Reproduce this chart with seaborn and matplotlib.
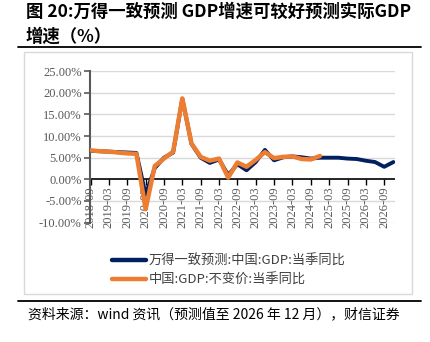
import matplotlib
matplotlib.use("Agg")
import matplotlib.pyplot as plt
import seaborn as sns
import pandas as pd
import numpy as np
from matplotlib.patches import Rectangle
from matplotlib.lines import Line2D

# ---------------- data ----------------
quarters = ["2018-09", "2018-12",
            "2019-03", "2019-06", "2019-09", "2019-12",
            "2020-03", "2020-06", "2020-09", "2020-12",
            "2021-03", "2021-06", "2021-09", "2021-12",
            "2022-03", "2022-06", "2022-09", "2022-12",
            "2023-03", "2023-06", "2023-09", "2023-12",
            "2024-03", "2024-06", "2024-09", "2024-12",
            "2025-03", "2025-06", "2025-09", "2025-12",
            "2026-03", "2026-06", "2026-09", "2026-12"]
forecast = [6.6, 6.5, 6.4, 6.3, 6.2, 6.1,
            -3.5, 2.6, 5.0, 6.2,
            18.6, 8.2, 5.0, 3.8,
            4.6, 1.0, 3.5, 2.1,
            4.0, 6.8, 4.4, 5.1,
            5.3, 5.1, 4.8, 5.0,
            5.0, 5.0, 4.8, 4.7,
            4.3, 4.0, 2.9, 4.0]
actual = [6.7, 6.5, 6.4, 6.2, 6.0, 5.9,
          -6.9, 3.1, 4.8, 6.4,
          18.7, 8.3, 5.2, 4.3,
          4.8, 0.4, 3.9, 2.9,
          4.5, 6.3, 4.9, 5.2,
          5.3, 4.7, 4.6, 5.4]
series_names = ["万得一致预测:中国:GDP:当季同比", "中国:GDP:不变价:当季同比"]
y_ticks = [-10, -5, 0, 5, 10, 15, 20, 25]

title_text = "图 20:万得一致预测 GDP增速可较好预测实际GDP\n增速（%）"
source_text = "资料来源：wind 资讯（预测值至 2026 年 12 月），财信证券"

# ---------------- build frame ----------------
idx = np.arange(len(quarters))
df = pd.concat([
    pd.DataFrame({"x": idx, "v": forecast, "s": series_names[0]}),
    pd.DataFrame({"x": idx[:len(actual)], "v": actual, "s": series_names[1]}),
])

sns.set_theme(style="white")
plt.rcParams["font.family"] = ["Noto Sans CJK SC", "DejaVu Sans"]

fig = plt.figure(figsize=(4.31, 3.42), dpi=100)
ax = fig.add_axes([0.209, 0.349, 0.708, 0.443])

colors = {series_names[0]: "#002060", series_names[1]: "#ED7D31"}
sns.lineplot(data=df, x="x", y="v", hue="s", palette=colors, ax=ax,
             legend=False, linewidth=3.0, zorder=3)
ax.lines[0].set_linewidth(2.8)
ax.lines[1].set_linewidth(3.2)

ax.set_xlim(-0.05, 33.2)
ax.set_ylim(-10, 25)
ax.set_yticks(y_ticks)
ax.set_yticklabels([f"{t:.2f}%" for t in y_ticks], family="Liberation Serif",
                   fontsize=9, color="#595959")
for t in y_ticks:
    if t != 0:
        ax.axhline(t, color="#d9d9d9", lw=1.0, zorder=0)
ax.axhline(0, color="black", lw=1.2, zorder=2)

for s in ["top", "right", "bottom"]:
    ax.spines[s].set_visible(False)
ax.spines["left"].set_color("#595959")
ax.spines["left"].set_linewidth(1.5)
ax.tick_params(axis="y", length=4, width=1.2, color="#595959", left=True, pad=2)

tick_pos = idx[::2]
ax.set_xticks([])
ax.set_xlabel("")
ax.set_ylabel("")

sec = ax.secondary_xaxis(10 / 35)
sec.set_xticks(tick_pos)
sec.set_xticklabels([quarters[i] for i in tick_pos], rotation=90,
                    family="Liberation Serif", fontsize=9, color="#595959")
sec.tick_params(axis="x", direction="out", length=4, width=1.0,
                color="black", pad=1)
sec.spines["bottom"].set_visible(False)

# legend
handles = [Line2D([], [], color=colors[n], lw=3.2) for n in series_names]
fig.legend(handles, series_names, loc="upper left",
           bbox_to_anchor=(100 / 431, 1 - 243 / 342), frameon=False,
           handlelength=2.6, handletextpad=0.2, labelspacing=0.45,
           prop={"family": ["Noto Sans CJK SC", "DejaVu Sans"], "size": 9.5},
           labelcolor="#404040")

# frame, rules, title, source
fig.patches.append(Rectangle((24 / 431, 1 - 294 / 342), 388 / 431, 242 / 342,
                             transform=fig.transFigure, fill=False,
                             edgecolor="#d9d9d9", lw=1.0))
fig.add_artist(Line2D([18 / 431, 421 / 431], [1 - 47 / 342] * 2,
                      transform=fig.transFigure, color="black", lw=1.3))
fig.add_artist(Line2D([18 / 431, 421 / 431], [1 - 301 / 342] * 2,
                      transform=fig.transFigure, color="black", lw=1.3))
fig.text(26 / 431, 1 - 3 / 342, title_text, ha="left", va="top",
         fontsize=12.5, fontweight="bold", linespacing=1.5, color="black")
fig.text(28 / 431, 1 - 314 / 342, source_text, ha="left", va="center",
         fontsize=10, style="italic", color="black")

fig.savefig("out.png", dpi=100)
